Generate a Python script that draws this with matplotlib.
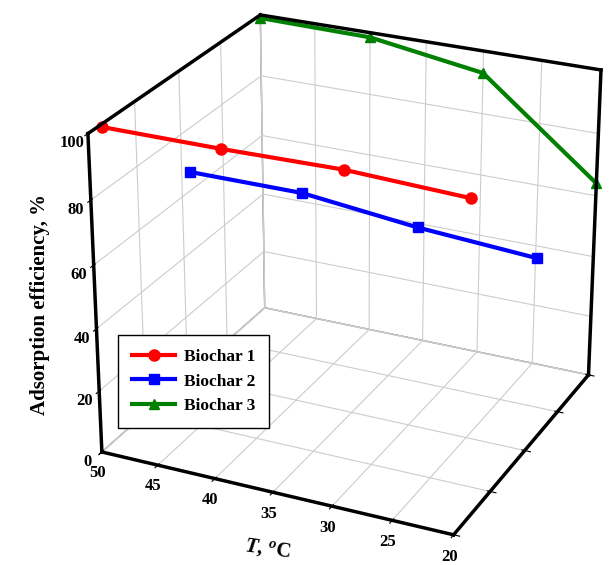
import matplotlib
matplotlib.use("Agg")
import matplotlib.pyplot as plt
import numpy as np

# ---- data ----
temps = [50, 40, 30, 20]
series_names = ["Biochar 1", "Biochar 2", "Biochar 3"]
biochar1 = [99, 99, 99.5, 98]
biochar2 = [66, 66, 62, 59.5]
biochar3 = [99, 98.5, 93, 64]
depth_pos = [0.3, 2.2, 4.0]
x_ticks = [50, 45, 40, 35, 30, 25, 20]
z_ticks = [0, 20, 40, 60, 80, 100]
y_ticks = [0, 1, 2, 3, 4]

colors = ["#ff0000", "#0000ff", "#008000"]
markers = ["o", "s", "^"]
msizes = [8, 6.5, 7]

plt.rcParams['font.family'] = ['Liberation Serif', 'DejaVu Serif']
plt.rcParams['font.weight'] = 'bold'
plt.rcParams['mathtext.fontset'] = 'custom'
plt.rcParams['mathtext.rm'] = 'Liberation Serif:bold'
plt.rcParams['mathtext.it'] = 'Liberation Serif:bold:italic'
plt.rcParams['mathtext.bf'] = 'Liberation Serif:bold'

fig = plt.figure(figsize=(6.09, 5.65), dpi=100)
ax = fig.add_axes([0.065, 0.025, 1.0, 1.0], projection='3d')
ax.set_proj_type('persp', focal_length=0.9)
ax.view_init(elev=25, azim=-65)

xlo, xhi = 50, 20
ylo, yhi = 0, 4
zlo, zhi = 0, 100
ax.set_xlim(xlo, xhi)
ax.set_ylim(ylo, yhi)
ax.set_zlim(zlo, zhi)
ax.set_box_aspect((1.0, 0.95, 0.9), zoom=1.08)

for axis in (ax.xaxis, ax.yaxis, ax.zaxis):
    axis.set_pane_color((1, 1, 1, 1))
    axis.pane.set_edgecolor('#888888')
    axis._axinfo['grid']['color'] = '#cccccc'
    axis._axinfo['grid']['linewidth'] = 0.8
    axis.line.set_linewidth(2.5)
    axis.line.set_color('black')

ax.zaxis.set_ticks_position('lower')
ax.zaxis.set_label_position('lower')

for vals, d, c, m, ms, name in zip([biochar1, biochar2, biochar3], depth_pos,
                                    colors, markers, msizes, series_names):
    ax.plot(temps, [d] * len(temps), vals, color=c, marker=m, markersize=ms,
            linewidth=3, label=name)

# bold box edges
ax.plot([xlo, xlo], [ylo, yhi], [zhi, zhi], color='black', lw=2.5)
ax.plot([xlo, xhi], [yhi, yhi], [zhi, zhi], color='black', lw=2.5)
ax.plot([xhi, xhi], [yhi, yhi], [zlo, zhi], color='black', lw=2.5)

ax.set_xticks(x_ticks)
ax.set_yticks(y_ticks)
ax.set_zticks(z_ticks)
ax.set_yticklabels([])
ax.tick_params(axis='both', labelsize=12)
ax.tick_params(axis='x', pad=-2)
ax.tick_params(axis='z', pad=-2)

fig.text(0.44, 0.005, r"$T$, $^{o}$C", fontsize=15, fontweight='bold',
         rotation=-8, ha='center', va='bottom')
ax.zaxis.set_rotate_label(False)
ax.set_zlabel("Adsorption efficiency, %", fontsize=15, fontweight='bold',
              rotation=90, labelpad=1)

leg = ax.legend(loc='lower left', bbox_to_anchor=(0.194, 0.242),
                bbox_transform=fig.transFigure, fancybox=False,
                edgecolor='black', fontsize=12.5, framealpha=1,
                handlelength=2.5, handletextpad=0.5, borderpad=0.8,
                borderaxespad=0.0)
leg.get_frame().set_linewidth(1.0)

fig.savefig("out.png", dpi=100)
